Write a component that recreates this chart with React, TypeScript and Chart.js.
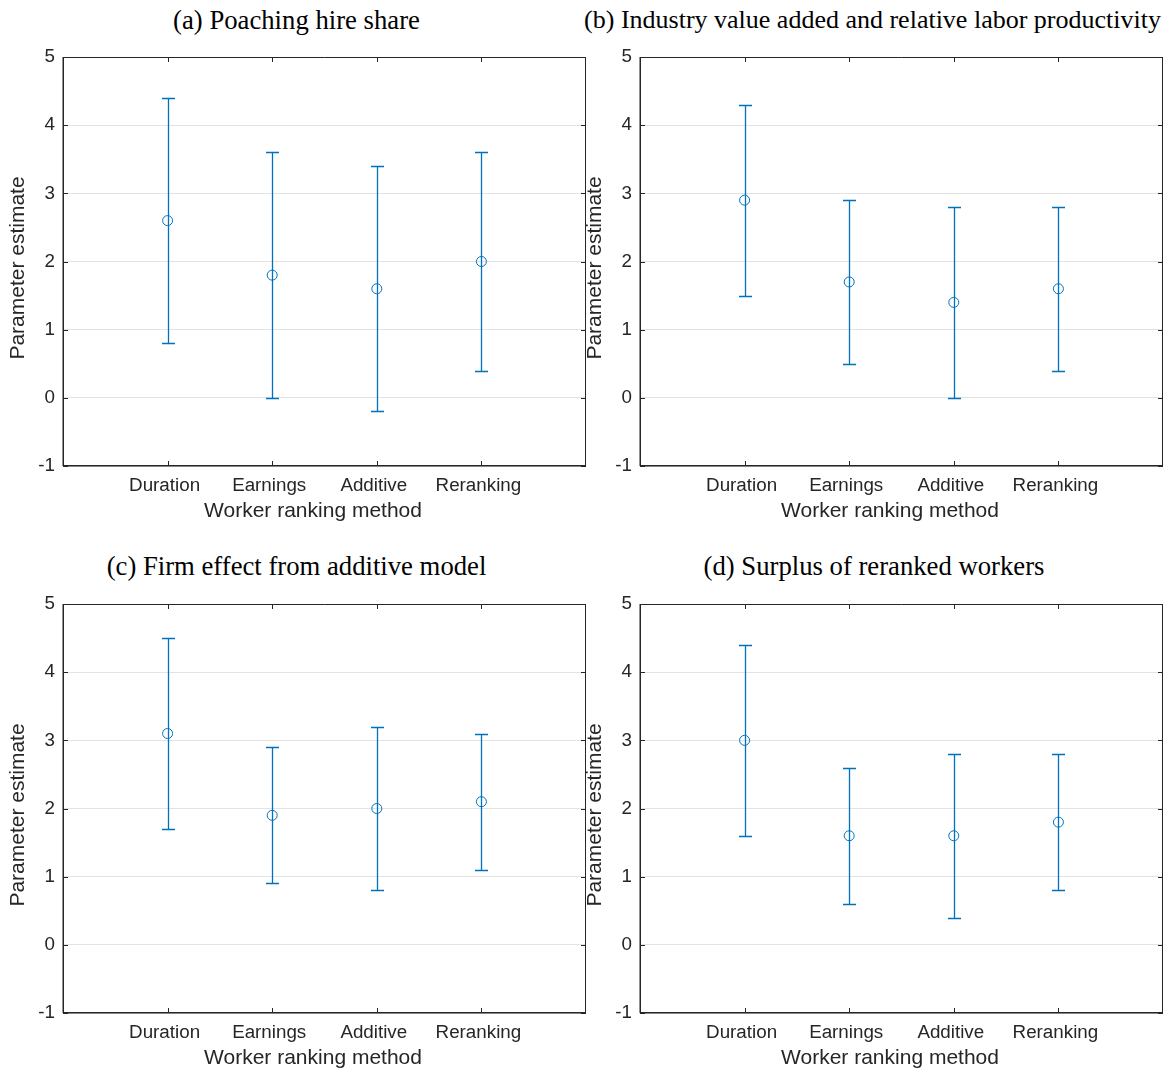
import React, { useEffect, useRef } from 'react';
import { Chart, registerables } from 'chart.js';

Chart.register(...registerables);

// ---------- data ----------
const categories = ['Duration', 'Earnings', 'Additive', 'Reranking'];
const categoryPositions = [1, 2, 3, 4];
const yTicks = [-1, 0, 1, 2, 3, 4, 5];

const titleA = '(a) Poaching hire share';
const titleB = '(b) Industry value added and relative labor productivity';
const titleC = '(c) Firm effect from additive model';
const titleD = '(d) Surplus of reranked workers';

const estA = [2.6, 1.8, 1.6, 2.0];
const lowA = [0.8, 0.0, -0.2, 0.4];
const highA = [4.4, 3.6, 3.4, 3.6];

const estB = [2.9, 1.7, 1.4, 1.6];
const lowB = [1.5, 0.5, 0.0, 0.4];
const highB = [4.3, 2.9, 2.8, 2.8];

const estC = [3.1, 1.9, 2.0, 2.1];
const lowC = [1.7, 0.9, 0.8, 1.1];
const highC = [4.5, 2.9, 3.2, 3.1];

const estD = [3.0, 1.6, 1.6, 1.8];
const lowD = [1.6, 0.6, 0.4, 0.8];
const highD = [4.4, 2.6, 2.8, 2.8];

const xLabel = 'Worker ranking method';
const yLabel = 'Parameter estimate';

// ---------- styles ----------
const BLUE = '#0072BD';
const AXIS = '#262626';
const GRID = 'rgba(38,38,38,0.13)';
const SANS = '"Liberation Sans", Arial, Helvetica, sans-serif';
const SERIF = '"Liberation Serif", "Times New Roman", serif';

const framePlugin = {
  id: 'matlabFrame',
  beforeDatasetsDraw(chart: any) {
    const { ctx, scales } = chart;
    const xs = scales.x;
    const ys = scales.y;
    const ds = chart.data.datasets[0];
    ctx.save();
    ctx.strokeStyle = BLUE;
    ctx.lineWidth = 1.3;
    ds.data.forEach((p: any) => {
      const px = Math.round(xs.getPixelForValue(p.x)) + 0.5;
      const yl = Math.round(ys.getPixelForValue(p.lo)) + 0.5;
      const yh = Math.round(ys.getPixelForValue(p.hi)) + 0.5;
      ctx.beginPath();
      ctx.moveTo(px, yl);
      ctx.lineTo(px, yh);
      ctx.moveTo(px - 6.5, yl);
      ctx.lineTo(px + 6.5, yl);
      ctx.moveTo(px - 6.5, yh);
      ctx.lineTo(px + 6.5, yh);
      ctx.stroke();
    });
    ctx.restore();
  },
  afterDraw(chart: any) {
    const { ctx, chartArea, scales } = chart;
    const { left, right, top, bottom } = chartArea;
    const xs = scales.x;
    const ys = scales.y;
    ctx.save();
    ctx.strokeStyle = AXIS;
    // top & right thin
    ctx.lineWidth = 1;
    ctx.beginPath();
    ctx.moveTo(left, top + 0.5);
    ctx.lineTo(right, top + 0.5);
    ctx.moveTo(right - 0.5, top);
    ctx.lineTo(right - 0.5, bottom);
    ctx.stroke();
    // left & bottom thicker
    ctx.lineWidth = 1.5;
    ctx.beginPath();
    ctx.moveTo(left + 0.25, top);
    ctx.lineTo(left + 0.25, bottom);
    ctx.moveTo(left, bottom - 0.25);
    ctx.lineTo(right, bottom - 0.25);
    ctx.stroke();
    // inward ticks
    ctx.lineWidth = 1;
    const tl = 5;
    ctx.beginPath();
    categoryPositions.forEach((v) => {
      const px = Math.round(xs.getPixelForValue(v)) + 0.5;
      ctx.moveTo(px, bottom);
      ctx.lineTo(px, bottom - tl);
      ctx.moveTo(px, top);
      ctx.lineTo(px, top + tl);
    });
    yTicks.forEach((v) => {
      const py = Math.round(ys.getPixelForValue(v)) + 0.5;
      ctx.moveTo(left, py);
      ctx.lineTo(left + tl, py);
      ctx.moveTo(right, py);
      ctx.lineTo(right - tl, py);
    });
    ctx.stroke();

    // axis titles (placed as in the reference)
    ctx.fillStyle = AXIS;
    ctx.font = `21px ${SANS}`;
    ctx.textAlign = 'center';
    ctx.textBaseline = 'alphabetic';
    ctx.fillText(xLabel, (left + right) / 2 - 11.5, bottom + 51);
    ctx.translate(24, (top + bottom) / 2 + 6.5);
    ctx.rotate(-Math.PI / 2);
    ctx.fillText(yLabel, 0, 0);
    ctx.restore();
  },
};

interface PanelProps {
  est: number[];
  low: number[];
  high: number[];
  left: number;
  top: number;
}

const CANVAS_W = 592;
const CANVAS_H = 498;

function Panel({ est, low, high, left, top }: PanelProps) {
  const ref = useRef<HTMLCanvasElement>(null);
  useEffect(() => {
    const tickFont = { family: SANS, size: 18.8 };
    const chart = new Chart(ref.current as HTMLCanvasElement, {
      type: 'scatter',
      data: {
        datasets: [
          {
            data: categoryPositions.map((x, i) => ({ x, y: est[i], lo: low[i], hi: high[i] })) as any,
            borderColor: BLUE,
            backgroundColor: 'rgba(0,0,0,0)',
            pointRadius: 5,
            pointBorderWidth: 1,
            pointStyle: 'circle',
            showLine: false,
          } as any,
        ],
      },
      options: {
        animation: false,
        responsive: false,
        maintainAspectRatio: false,
        events: [],
        layout: { padding: { top: 27, right: 3, left: 0, bottom: 0 } },
        plugins: {
          legend: { display: false },
          tooltip: { enabled: false },
          title: { display: false },
        },
        scales: {
          x: {
            type: 'linear',
            min: 0,
            max: 5,
            afterBuildTicks: (s: any) => {
              s.ticks = categoryPositions.map((v) => ({ value: v }));
            },
            afterFit: (s: any) => {
              s.height = 62;
            },
            ticks: {
              callback: (v: any) => {
                const i = categoryPositions.indexOf(Number(v));
                return i >= 0 ? categories[i] : '';
              },
              font: tickFont,
              color: AXIS,
              padding: 9,
              labelOffset: -3,
              maxRotation: 0,
              autoSkip: false,
            },
            grid: { display: false, drawTicks: false },
            border: { display: false },
            title: { display: false },
          },
          y: {
            type: 'linear',
            min: -1,
            max: 5,
            afterBuildTicks: (s: any) => {
              s.ticks = yTicks.map((v) => ({ value: v }));
            },
            afterFit: (s: any) => {
              s.width = 63;
            },
            ticks: { font: tickFont, color: AXIS, padding: 8 },
            grid: { color: GRID, drawTicks: false, lineWidth: 1 },
            border: { display: false },
            title: { display: false },
          },
        },
      } as any,
      plugins: [framePlugin],
    });
    return () => chart.destroy();
  }, [est, low, high]);
  return (
    <canvas
      ref={ref}
      width={CANVAS_W}
      height={CANVAS_H}
      style={{ position: 'absolute', left, top, width: CANVAS_W, height: CANVAS_H }}
    />
  );
}

function Title({ text, center, top, size }: { text: string; center: number; top: number; size: number }) {
  return (
    <div
      style={{
        position: 'absolute',
        left: center - 350,
        width: 700,
        top,
        textAlign: 'center',
        font: `${size}px ${SERIF}`,
        lineHeight: '26.5px',
        color: '#000',
        whiteSpace: 'nowrap',
      }}
    >
      {text}
    </div>
  );
}

export default function App() {
  return (
    <div
      style={{
        position: 'absolute',
        left: 0,
        top: 0,
        width: 1166,
        height: 1072,
        overflow: 'hidden',
        background: '#fff',
      }}
    >
      <Title text={titleA} center={296.5} top={7} size={26.7} />
      <Title text={titleB} center={872.5} top={7} size={26} />
      <Title text={titleC} center={296.5} top={553} size={26.7} />
      <Title text={titleD} center={874} top={553} size={26.7} />
      <Panel est={estA} low={lowA} high={highA} left={0} top={30} />
      <Panel est={estB} low={lowB} high={highB} left={577} top={30} />
      <Panel est={estC} low={lowC} high={highC} left={0} top={577} />
      <Panel est={estD} low={lowD} high={highD} left={577} top={577} />
    </div>
  );
}
